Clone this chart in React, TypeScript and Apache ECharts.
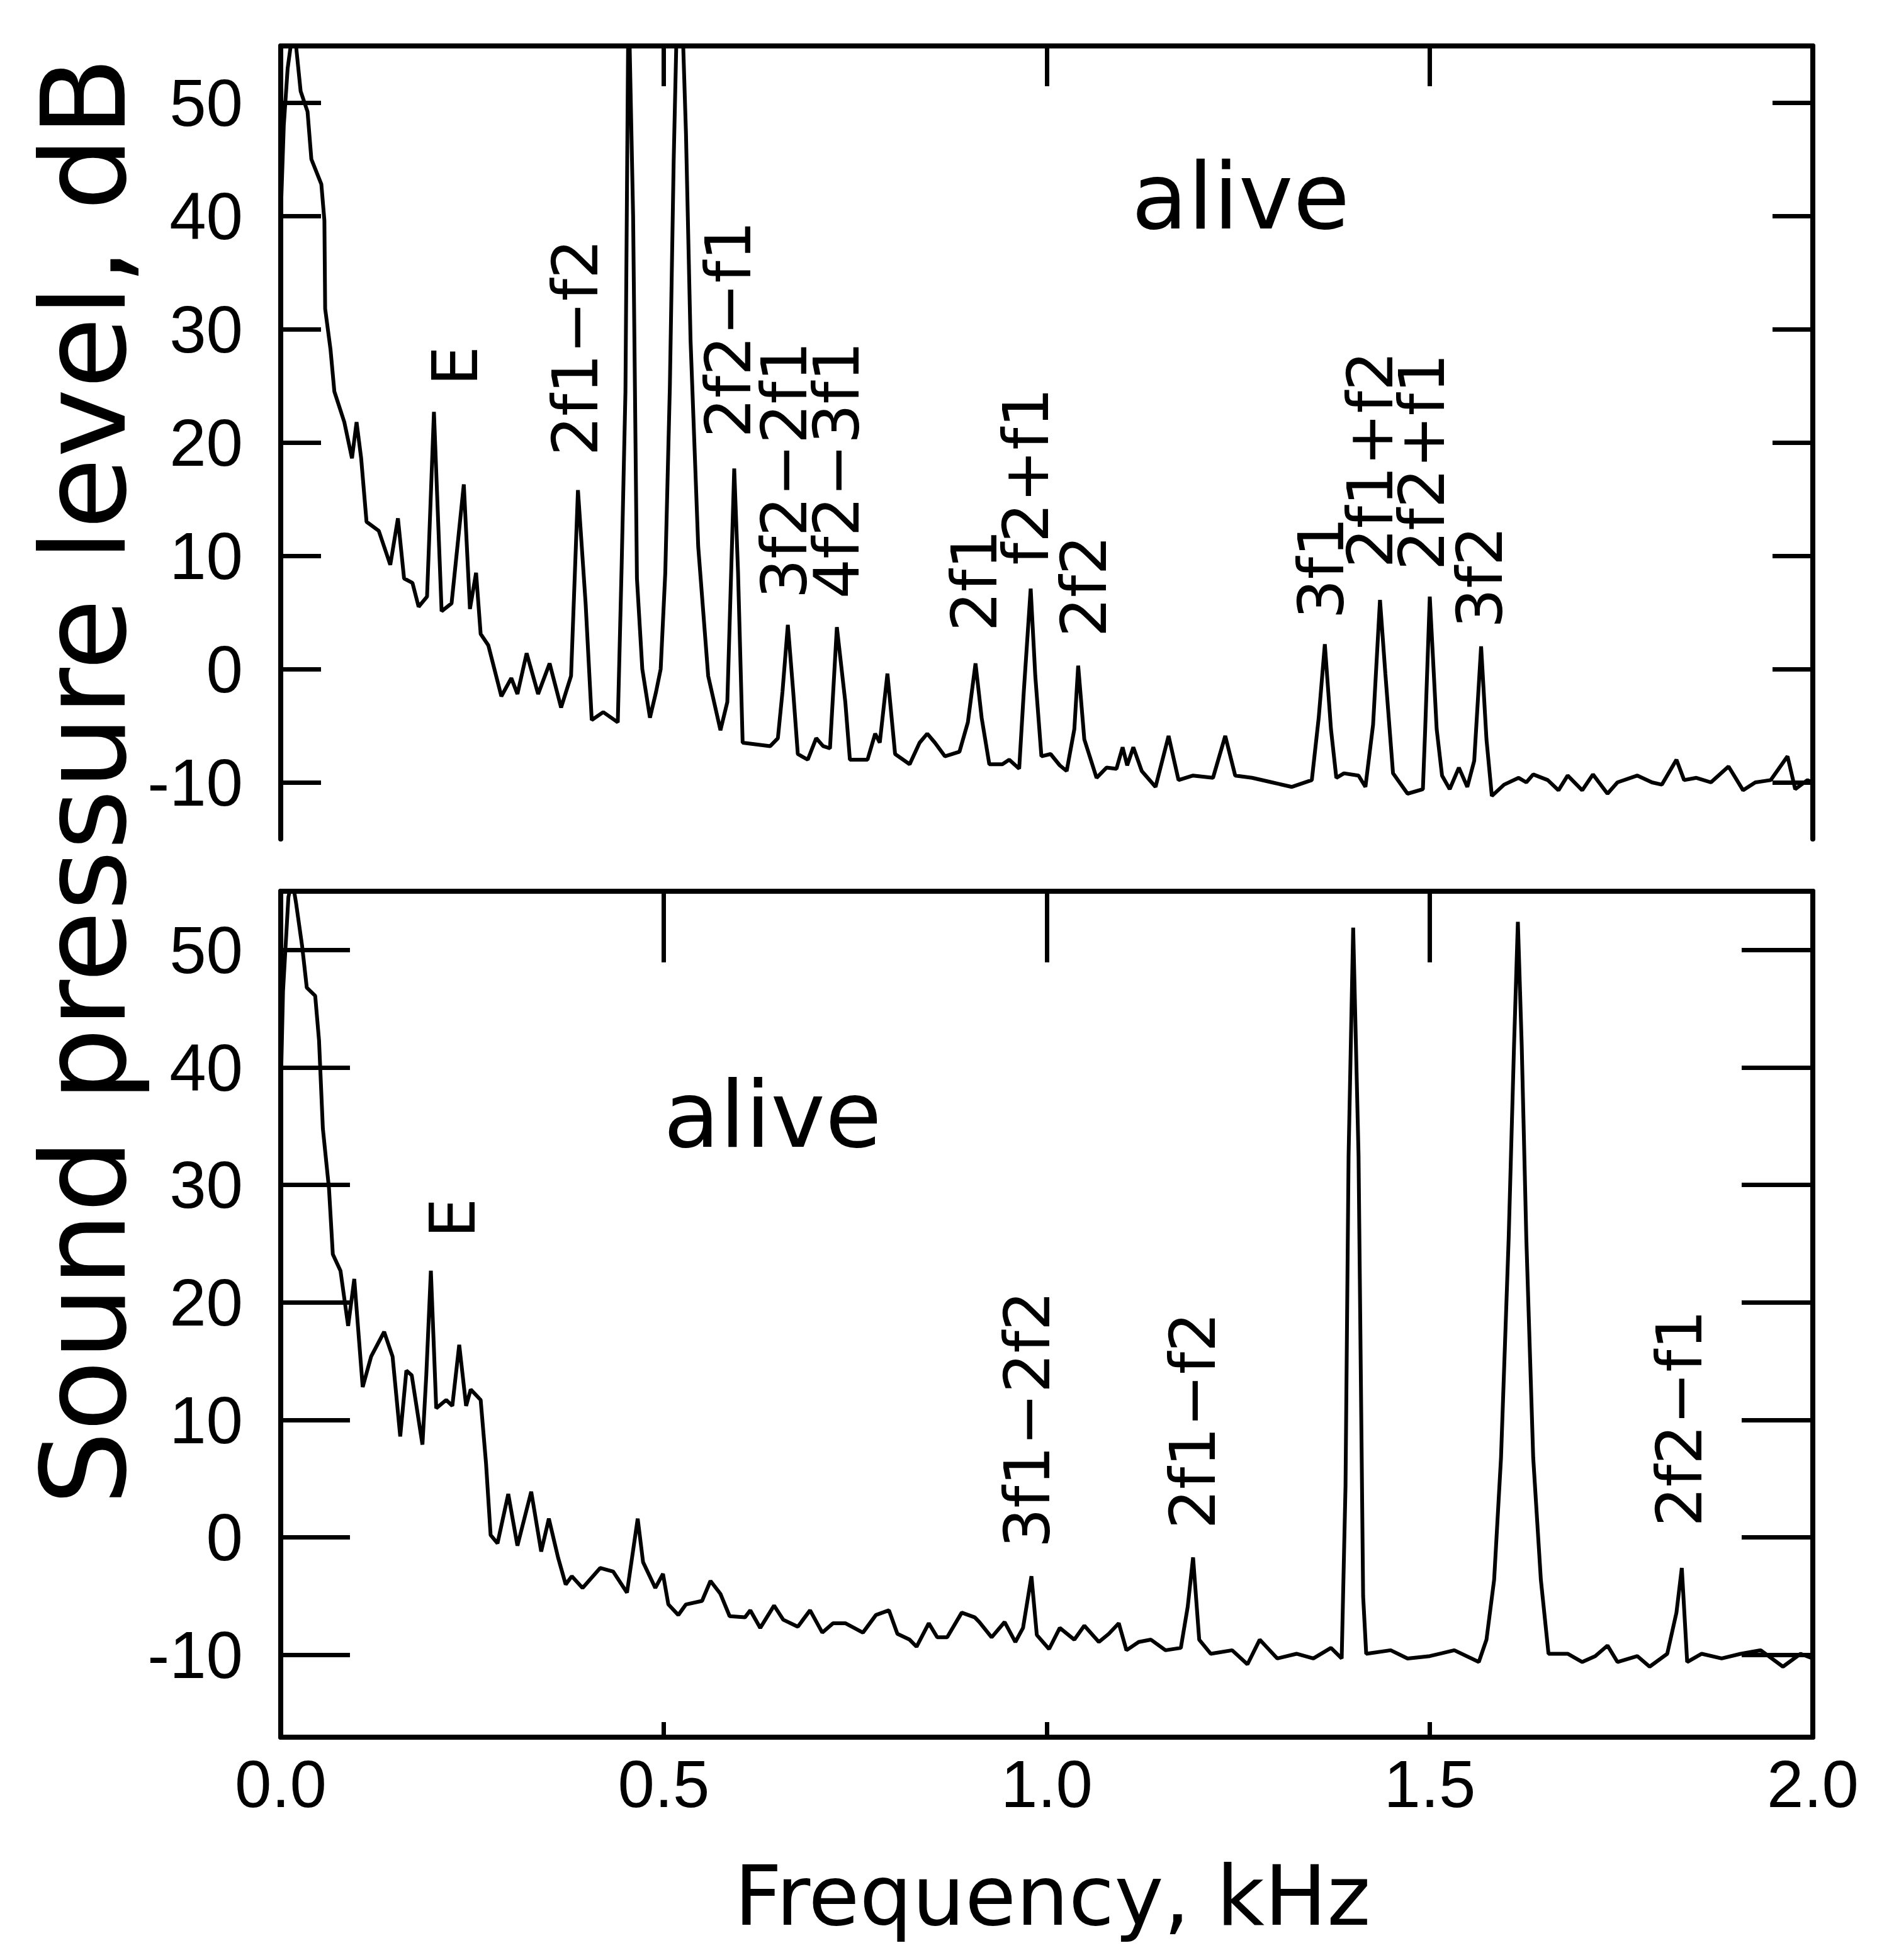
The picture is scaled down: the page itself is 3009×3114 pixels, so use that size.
import React, { useEffect, useRef } from "react";
import * as echarts from "echarts";

// ---------- data (frequency in kHz, level in dB) ----------
const topFreq = [
  0.0, 0.004, 0.009, 0.015, 0.02, 0.026, 0.035, 0.04, 0.053, 0.057, 0.058, 0.065, 0.07, 0.083, 0.093, 0.099,
  0.105, 0.112, 0.128, 0.143, 0.153, 0.161, 0.172, 0.18, 0.191, 0.2, 0.21, 0.223, 0.239, 0.247, 0.255, 0.261,
  0.271, 0.288, 0.301, 0.309, 0.321, 0.336, 0.351, 0.366, 0.379, 0.388, 0.398, 0.406, 0.421, 0.44, 0.445, 0.45,
  0.454, 0.46, 0.465, 0.472, 0.482, 0.49, 0.496, 0.502, 0.508, 0.513, 0.518, 0.524, 0.529, 0.535, 0.545, 0.558,
  0.574, 0.583, 0.592, 0.597, 0.603, 0.639, 0.649, 0.655, 0.662, 0.669, 0.675, 0.688, 0.699, 0.708, 0.717, 0.726,
  0.737, 0.743, 0.766, 0.776, 0.782, 0.792, 0.802, 0.821, 0.834, 0.844, 0.854, 0.867, 0.886, 0.897, 0.907, 0.915,
  0.925, 0.942, 0.951, 0.964, 0.97, 0.979, 0.985, 0.993, 1.005, 1.017, 1.026, 1.036, 1.041, 1.049, 1.065, 1.078,
  1.091, 1.099, 1.105, 1.113, 1.124, 1.142, 1.159, 1.172, 1.191, 1.217, 1.233, 1.246, 1.268, 1.294, 1.32, 1.346,
  1.355, 1.363, 1.371, 1.378, 1.388, 1.407, 1.416, 1.426, 1.435, 1.442, 1.452, 1.471, 1.491, 1.494, 1.5, 1.509,
  1.516, 1.526, 1.538, 1.549, 1.558, 1.567, 1.574, 1.581, 1.597, 1.616, 1.626, 1.635, 1.654, 1.668, 1.68, 1.699,
  1.713, 1.732, 1.745, 1.771, 1.79, 1.803, 1.822, 1.832, 1.848, 1.867, 1.89, 1.909, 1.925, 1.945, 1.967, 1.977,
  1.993, 2.0,
];
const topLevel = [
  40, 48, 53, 56, 55, 51, 49.2, 45, 42.8, 39.6, 31.8, 28.2, 24.5, 21.8, 18.6, 21.8,
  18.6, 13, 12.2, 9.2, 13.3, 8, 7.6, 5.5, 6.4, 22.7, 5.1, 5.8, 16.3, 5.3, 8.5, 3.1,
  2.1, -2.4, -0.8, -2.2, 1.4, -2.2, 0.5, -3.4, -0.6, 15.8, 5.8, -4.5, -3.8, -4.7, 9, 24.5,
  60, 40, 8, 0, -4.3, -2, 0, 8.5, 25, 45, 60, 58, 47.3, 29, 10.8, -0.6,
  -5.4, -2.9, 17.7, 8.5, -6.5, -6.8, -6.1, -2, 3.9, -2, -7.5, -8, -6.1, -6.8, -7, 3.7,
  -2.9, -8, -8, -5.7, -6.5, -0.4, -7.5, -8.4, -6.5, -5.7, -6.5, -7.7, -7.3, -4.7, 0.5, -4.3,
  -8.4, -8.4, -8, -8.8, -2, 7.1, -0.6, -7.7, -7.5, -8.5, -9, -5.3, 0.3, -6.2, -9.6, -8.7,
  -8.8, -6.9, -8.5, -6.9, -9, -10.4, -5.9, -9.8, -9.4, -9.6, -5.9, -9.4, -9.6, -10, -10.4, -9.8,
  -4.3, 2.2, -5.3, -9.6, -9.2, -9.4, -10.4, -4.9, 6.1, -0.4, -9.2, -11, -10.6, -5.3, 6.4, -5.3,
  -9.4, -10.6, -8.7, -10.4, -8.1, 2, -6.2, -11.2, -10.2, -9.6, -10, -9.3, -9.8, -10.7, -9.4, -10.7,
  -9.3, -11, -10, -9.4, -10, -10.2, -8, -9.8, -9.6, -10, -8.6, -10.7, -10, -9.8, -7.7, -10.6,
  -9.8, -10,
];

const bottomFreq = [
  0.0, 0.003, 0.01, 0.015, 0.02, 0.028, 0.034, 0.045, 0.05, 0.055, 0.06, 0.063, 0.068, 0.078, 0.088, 0.096,
  0.107, 0.118, 0.135, 0.146, 0.156, 0.164, 0.171, 0.185, 0.19, 0.196, 0.203, 0.216, 0.224, 0.233, 0.242, 0.248,
  0.261, 0.268, 0.274, 0.283, 0.297, 0.309, 0.327, 0.34, 0.35, 0.362, 0.372, 0.38, 0.394, 0.417, 0.434, 0.452,
  0.466, 0.473, 0.489, 0.499, 0.506, 0.519, 0.529, 0.55, 0.561, 0.574, 0.586, 0.606, 0.613, 0.626, 0.644, 0.656,
  0.675, 0.691, 0.707, 0.721, 0.737, 0.76, 0.777, 0.794, 0.805, 0.821, 0.83, 0.846, 0.857, 0.87, 0.889, 0.906,
  0.912, 0.928, 0.945, 0.959, 0.969, 0.98, 0.987, 1.003, 1.017, 1.036, 1.049, 1.068, 1.081, 1.094, 1.104, 1.12,
  1.136, 1.155, 1.175, 1.184, 1.191, 1.199, 1.214, 1.242, 1.262, 1.278, 1.301, 1.326, 1.348, 1.371, 1.385, 1.39,
  1.394, 1.4, 1.407, 1.413, 1.417, 1.449, 1.471, 1.5, 1.532, 1.564, 1.574, 1.584, 1.593, 1.603, 1.61, 1.615,
  1.62, 1.626, 1.635, 1.645, 1.655, 1.68, 1.699, 1.716, 1.732, 1.745, 1.771, 1.787, 1.81, 1.822, 1.829, 1.836,
  1.855, 1.881, 1.906, 1.932, 1.961, 1.984, 2.0,
];
const bottomLevel = [
  38, 46.5, 54.5, 56, 54, 50.3, 46.8, 46.1, 42.3, 34.8, 31.6, 29.7, 24.1, 22.7, 18, 22,
  12.8, 15.4, 17.5, 15.4, 8.6, 14.2, 13.8, 7.9, 13.8, 22.7, 11, 11.7, 11.2, 16.4, 11.2, 12.6,
  11.7, 6.3, 0.2, -0.5, 3.7, -0.7, 3.9, -1.2, 1.6, -1.7, -4, -3.3, -4.3, -2.6, -2.9, -4.7,
  1.6, -2.1, -4.3, -3.1, -5.7, -6.6, -5.7, -5.4, -3.7, -4.8, -6.7, -6.8, -6.2, -7.7, -5.8, -7,
  -7.6, -6.2, -8.1, -7.3, -7.3, -8.1, -6.6, -6.2, -8.2, -8.7, -9.3, -7.3, -8.5, -8.5, -6.4, -6.8,
  -7.2, -8.5, -7.2, -8.9, -7.7, -3.3, -8.3, -9.5, -7.7, -8.7, -7.5, -8.9, -8.2, -7.3, -9.6, -8.9,
  -8.7, -9.6, -9.4, -5.9, -1.7, -8.7, -9.9, -9.6, -10.8, -8.7, -10.3, -9.9, -10.3, -9.4, -10.3, 4.4,
  32.5, 51.9, 32.5, -5, -9.9, -9.6, -10.3, -10.1, -9.6, -10.6, -8.7, -3.6, 6.8, 25.5, 41.9, 52.4,
  41.9, 25.5, 6.8, -3.6, -9.9, -9.9, -10.6, -10.1, -9.2, -10.6, -10.1, -11, -9.9, -6.4, -2.6, -10.6,
  -9.9, -10.3, -9.9, -9.6, -11, -9.9, -10.3,
];

const xTicks = [0, 0.5, 1, 1.5, 2];
const xInnerTicks = [0.5, 1, 1.5];
const yTicks = [-10, 0, 10, 20, 30, 40, 50];

// annotation labels: text, frequency (kHz), level (dB) where the rotated text starts
const topLabelTexts = ["E", "2f1\u2212f2", "2f2\u2212f1", "3f2\u22122f1", "4f2\u22123f1", "2f1", "f2+f1", "2f2", "3f1", "2f1+f2", "2f2+f1", "3f2"];
const topLabelFreq = [0.228, 0.385, 0.585, 0.658, 0.726, 0.906, 0.973, 1.049, 1.359, 1.423, 1.49, 1.566];
const topLabelLevel = [25.0, 18.8, 20.4, 6.2, 6.2, 3.3, 9.2, 2.8, 4.4, 8.9, 8.7, 3.6];

const bottomLabelTexts = ["E", "3f1\u22122f2", "2f1\u2212f2", "2f2\u2212f1"];
const bottomLabelFreq = [0.225, 0.975, 1.191, 1.826];
const bottomLabelLevel = [25.5, -0.9, 0.7, 0.9];

const panelTitle = "alive";
const panelTitleFreq = [1.253, 0.642];
const panelTitleLevel = [41.7, 36.0];

const FONT = '"DejaVu Sans", "Noto Sans", sans-serif';
const TICK_FONT = '"Liberation Sans", Arial, sans-serif';

export default function App() {
  const ref = useRef<HTMLDivElement>(null);

  useEffect(() => {
    const el = ref.current;
    if (!el) return;
    const chart = echarts.init(el, null, { renderer: "svg" });

    const lineW = 8;
    const axisLine = { show: true, onZero: false, lineStyle: { color: "#000", width: lineW } };
    const tickStyle = (len: number, values: number[]) => ({
      show: true,
      inside: true,
      length: len,
      customValues: values,
      lineStyle: { color: "#000", width: 7 },
    });
    const noLabel = { show: false };

    const topData = topFreq.map((f, i) => [f, topLevel[i]]);
    const bottomData = bottomFreq.map((f, i) => [f, bottomLevel[i]]);

    const grids = [
      { left: 446, top: 73, width: 2434, height: 1260 },
      { left: 446, top: 1416, width: 2434, height: 1344 },
    ];

    const yLabel = {
      show: true,
      customValues: yTicks,
      margin: 60,
      color: "#000",
      fontFamily: TICK_FONT,
      fontSize: 105,
      formatter: (v: number) => String(v),
    };

    const option: any = {
      animation: false,
      backgroundColor: "#fff",
      grid: grids.map((g) => ({ ...g, containLabel: false })),
      xAxis: [
        {
          gridIndex: 0, type: "value", min: 0, max: 2, position: "top",
          axisLine, axisTick: tickStyle(64, xInnerTicks), axisLabel: noLabel, splitLine: { show: false },
        },
        {
          gridIndex: 1, type: "value", min: 0, max: 2, position: "top",
          axisLine, axisTick: tickStyle(113, xInnerTicks), axisLabel: noLabel, splitLine: { show: false },
        },
        {
          gridIndex: 1, type: "value", min: 0, max: 2, position: "bottom",
          axisLine, axisTick: tickStyle(24, xInnerTicks),
          axisLabel: {
            show: true, customValues: xTicks, margin: 22, color: "#000", fontFamily: TICK_FONT, fontSize: 105,
            formatter: (v: number) => v.toFixed(1),
          },
          splitLine: { show: false },
        },
      ],
      yAxis: [
        {
          gridIndex: 0, type: "value", min: -15, max: 55, position: "left",
          axisLine, axisTick: tickStyle(64, yTicks), axisLabel: yLabel, splitLine: { show: false },
        },
        {
          gridIndex: 0, type: "value", min: -15, max: 55, position: "right",
          axisLine, axisTick: tickStyle(64, yTicks), axisLabel: noLabel, splitLine: { show: false },
        },
        {
          gridIndex: 1, type: "value", min: -17, max: 55, position: "left",
          axisLine, axisTick: tickStyle(110, yTicks), axisLabel: yLabel, splitLine: { show: false },
        },
        {
          gridIndex: 1, type: "value", min: -17, max: 55, position: "right",
          axisLine, axisTick: tickStyle(113, yTicks), axisLabel: noLabel, splitLine: { show: false },
        },
      ],
      series: [
        {
          type: "line", xAxisIndex: 0, yAxisIndex: 0, data: topData, showSymbol: false, symbol: "none",
          clip: true, lineStyle: { color: "#000", width: 6 }, z: 3,
        },
        {
          type: "line", xAxisIndex: 2, yAxisIndex: 2, data: bottomData, showSymbol: false, symbol: "none",
          clip: true, lineStyle: { color: "#000", width: 6 }, z: 3,
        },
      ],
    };

    chart.setOption(option);

    const graphics: any[] = [];
    const addRotated = (seriesIndex: number, text: string, f: number, db: number) => {
      const p = chart.convertToPixel({ seriesIndex }, [f, db]) as number[];
      graphics.push({
        type: "text", x: p[0], y: p[1], rotation: Math.PI / 2, z: 10,
        style: { text, fill: "#000", font: `100px ${FONT}`, align: "left", verticalAlign: "middle" },
      });
    };
    topLabelTexts.forEach((t, i) => addRotated(0, t, topLabelFreq[i], topLabelLevel[i]));
    bottomLabelTexts.forEach((t, i) => addRotated(1, t, bottomLabelFreq[i], bottomLabelLevel[i]));

    [0, 1].forEach((s) => {
      const p = chart.convertToPixel({ seriesIndex: s }, [panelTitleFreq[s], panelTitleLevel[s]]) as number[];
      graphics.push({
        type: "text", x: p[0], y: p[1], z: 10,
        style: { text: panelTitle, fill: "#000", font: `146px ${FONT}`, align: "center", verticalAlign: "middle" },
      });
    });

    // axis titles
    graphics.push({
      type: "text", x: 134, y: 1241, rotation: Math.PI / 2, z: 10,
      style: { text: "Sound pressure level, dB", fill: "#000", font: `185px ${FONT}`, align: "center", verticalAlign: "middle" },
    });
    graphics.push({
      type: "text", x: 1672, y: 3012, z: 10,
      style: { text: "Frequency, kHz", fill: "#000", font: `132px ${FONT}`, align: "center", verticalAlign: "middle" },
    });

    chart.setOption({ graphic: graphics });

    return () => chart.dispose();
  }, []);

  return (
    <div
      ref={ref}
      style={{ position: "absolute", left: 0, top: 0, width: 3009, height: 3114, background: "#fff" }}
    />
  );
}
